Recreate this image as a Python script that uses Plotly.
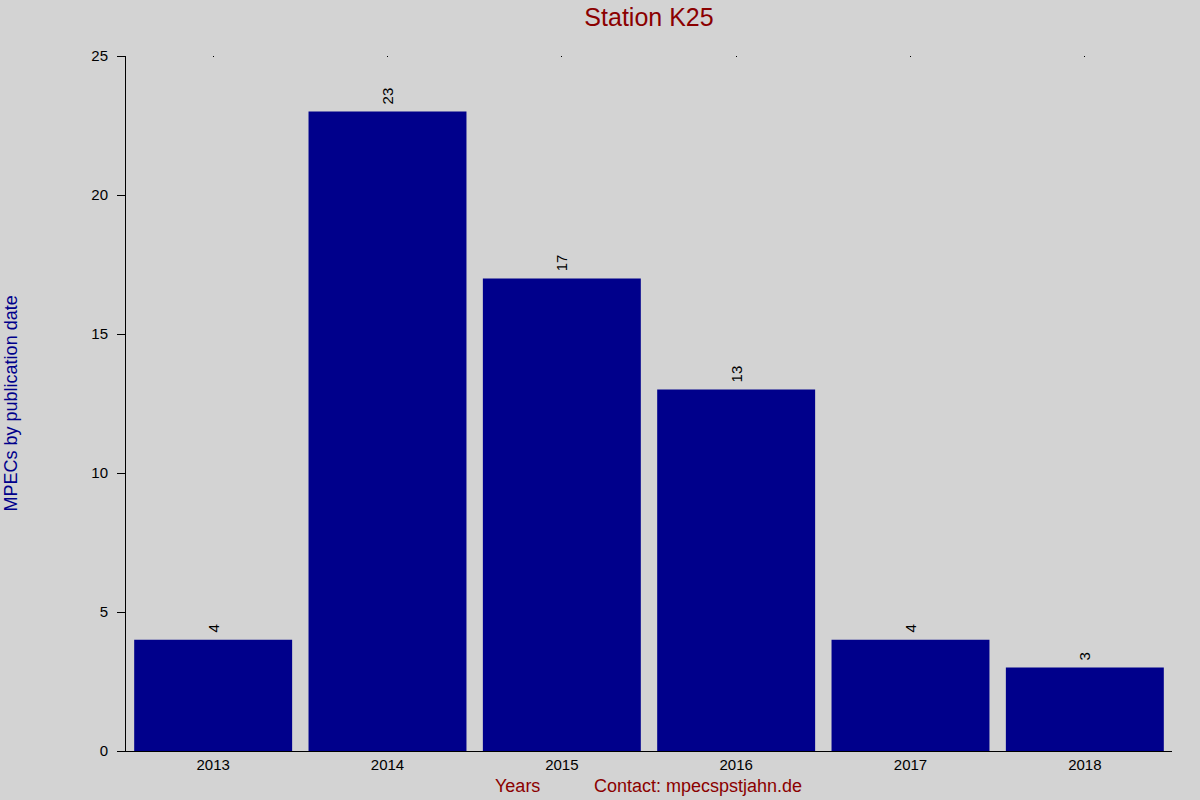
import plotly.graph_objects as go

# Data
years = ['2013', '2014', '2015', '2016', '2017', '2018']
mpecs = [4, 23, 17, 13, 4, 3]

bg = '#d3d3d3'
bar_color = '#00008b'
red = '#8b0000'
font_name = 'Liberation Sans, Arial, sans-serif'

fig = go.Figure()

# leading no-break space lifts the rotated label a little off the bar top
fig.add_trace(go.Bar(
    x=years,
    y=mpecs,
    marker=dict(color=bar_color, line=dict(width=0)),
    text=['\u00a0' + str(v) for v in mpecs],
    textposition='outside',
    textangle=-90,
    textfont=dict(size=15, color='black', family=font_name),
    cliponaxis=False,
    showlegend=False
))

fig.update_layout(
    width=1200,
    height=800,
    paper_bgcolor=bg,
    plot_bgcolor=bg,
    margin=dict(l=126, r=28, t=56, b=49),
    bargap=0.094,
    font=dict(family=font_name, color='black'),
    title=dict(
        text='Station K25',
        x=(126 + 1172) / 2 / 1200,
        xanchor='center',
        y=0.978,
        yref='container',
        yanchor='middle',
        font=dict(size=25, color=red, family=font_name)
    ),
    xaxis=dict(
        type='category',
        range=[-0.5, len(years) - 0.5],
        showline=True,
        linecolor='black',
        linewidth=1,
        ticks='',
        showgrid=False,
        zeroline=False,
        tickfont=dict(size=15, color='black')
    ),
    # tiny tick dots along the top edge
    xaxis2=dict(
        overlaying='x',
        side='top',
        range=[-0.5, len(years) - 0.5],
        tickmode='array',
        tickvals=list(range(len(years))),
        ticks='inside',
        ticklen=1,
        tickcolor='black',
        showticklabels=False,
        showline=False,
        showgrid=False,
        zeroline=False
    ),
    yaxis=dict(
        range=[0, 25],
        tickvals=[0, 5, 10, 15, 20, 25],
        showline=True,
        linecolor='black',
        linewidth=1,
        ticks='outside',
        ticklen=8,
        tickcolor='black',
        ticklabelstandoff=6,
        showgrid=False,
        zeroline=False,
        tickfont=dict(size=15, color='black')
    ),
    annotations=[
        dict(text='MPECs by publication date', xref='paper', yref='paper',
             x=-0.11, y=0.5, xanchor='center', yanchor='middle',
             textangle=-90, showarrow=False,
             font=dict(size=18, color=bar_color)),
        dict(text='Years', xref='paper', yref='paper',
             x=0.374, y=-0.0504, xanchor='center', yanchor='middle',
             showarrow=False, font=dict(size=18, color=red)),
        dict(text='Contact: mpecspstjahn.de', xref='paper', yref='paper',
             x=0.547, y=-0.0504, xanchor='center', yanchor='middle',
             showarrow=False, font=dict(size=18, color=red)),
    ]
)

# dummy invisible trace so xaxis2 is drawn
fig.add_trace(go.Scatter(x=[], y=[], xaxis='x2', showlegend=False))

# drop the default page margin so the figure fills the window
fig.write_html("out.html", config={'displayModeBar': False},
               post_script="document.body.style.margin='0px';")
